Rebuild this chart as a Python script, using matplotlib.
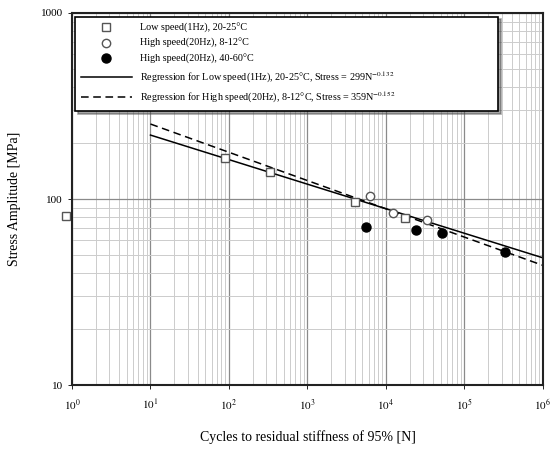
import matplotlib
matplotlib.use("Agg")
from matplotlib import pyplot as plt
import numpy as np

plt.rcParams["font.family"] = ["Liberation Serif", "DejaVu Serif"]
plt.rcParams["mathtext.fontset"] = "stix"

# data
low_n = [0.84, 89, 333, 4000, 17400]
low_s = [81, 166, 140, 96, 79]
cold_n = [6300, 12300, 33000]
cold_s = [104, 84, 77]
hot_n = [5600, 24000, 51600, 330000]
hot_s = [70.7, 68, 65.6, 51.9]

# regression Stress = a * N^b
low_a, low_b = 299.0, -0.132
high_a, high_b = 359.0, -0.152
fit_n = [10, 1e6]

labels = [
    "Low speed(1Hz), 20-25\u00b0C",
    "High speed(20Hz), 8-12\u00b0C",
    "High speed(20Hz), 40-60\u00b0C",
    "Regression for Low speed(1Hz), 20-25\u00b0C, Stress = %.0fN$^{%.3f}$" % (low_a, low_b),
    "Regression for High speed(20Hz), 8-12\u00b0C, Stress = %.0fN$^{%.3f}$" % (high_a, high_b),
]

fig = plt.figure(figsize=(5.55, 4.51), dpi=100)
ax = fig.add_axes([0.1297, 0.1463, 0.8486, 0.8249])

ax.set_xscale("log")
ax.set_yscale("log")
ax.set_xlim(1, 1e6)
ax.set_ylim(10, 1000)
ax.grid(which="major", color="#8a8a8a", linewidth=0.9)
ax.grid(which="minor", color="#cccccc", linewidth=0.7)
ax.set_axisbelow(True)

fn = np.array(fit_n)
ax.plot(fn, low_a * fn ** low_b, color="black", linewidth=1.1, label=labels[3])
ax.plot(fn, high_a * fn ** high_b, color="black", linewidth=1.1,
        linestyle=(0, (5, 3)), label=labels[4])
ax.plot(low_n, low_s, "s", markerfacecolor="white", markeredgecolor="#555555",
        markersize=6, linestyle="none", label=labels[0], clip_on=False)
ax.plot(cold_n, cold_s, "o", markerfacecolor="white", markeredgecolor="#555555",
        markersize=6, linestyle="none", label=labels[1])
ax.plot(hot_n, hot_s, "o", color="black", markersize=6.5, linestyle="none",
        label=labels[2])

handles, labs = ax.get_legend_handles_labels()
order = [2, 3, 4, 0, 1]
leg = ax.legend([handles[i] for i in order], [labs[i] for i in order],
                loc="upper left", bbox_to_anchor=(0.006, 0.3, 0.898, 0.69),
                mode="expand", borderaxespad=0,
                fontsize=7.3, frameon=True, fancybox=False, shadow=True,
                edgecolor="black", framealpha=1, handlelength=5,
                labelspacing=0.55, borderpad=0.6)
leg.get_frame().set_linewidth(1.2)

for sp in ax.spines.values():
    sp.set_linewidth(1.5)
    sp.set_color("#222222")

ax.set_xticks([1e0, 1e1, 1e2, 1e3, 1e4, 1e5, 1e6])
ax.set_xticklabels(["$10^{%d}$" % i for i in range(7)])
ax.set_yticks([10, 100, 1000])
ax.set_yticklabels(["10", "100", "1000"])
ax.tick_params(which="both", labelsize=8, direction="out", length=3, width=0.6)
ax.tick_params(axis="x", pad=6)
ax.tick_params(which="minor", length=0)

ax.set_xlabel("Cycles to residual stiffness of 95% [N]", fontsize=10, labelpad=13)
ax.set_ylabel("Stress Amplitude [MPa]", fontsize=10, labelpad=14)

plt.savefig("out.png", dpi=100)
